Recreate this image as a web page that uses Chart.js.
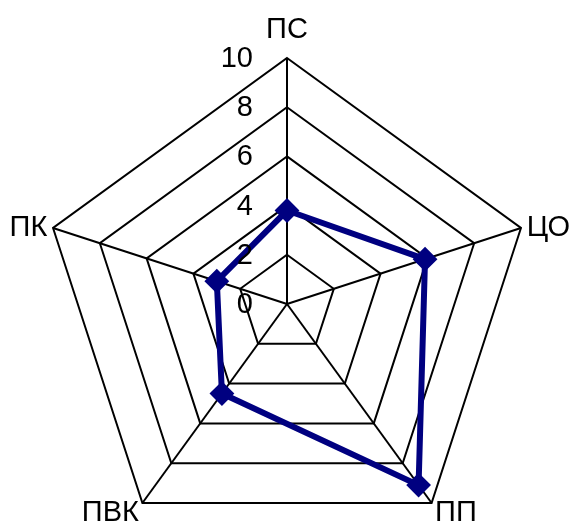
<!DOCTYPE html>
<html>
<head>
<meta charset="utf-8">
<script src="https://cdn.jsdelivr.net/npm/chart.js@4"></script>
<style>
  html, body { margin: 0; padding: 0; background: #fff; overflow: hidden; }
  /* the pentagon leaves the lower part of the circle empty, so the canvas runs a bit past the window */
  #wrap { width: 571px; height: 550px; position: relative; }
</style>
</head>
<body>
<div id="wrap"><canvas id="radar"></canvas></div>
<script>
// axes, clockwise from the top
var categories = ['ПС', 'ЦО', 'ПП', 'ПВК', 'ПК'];
var values = [3.8, 5.9, 9.1, 4.5, 3.0];
var tickValues = [0, 2, 4, 6, 8, 10];

var FONT = '29px "Liberation Sans", Arial, sans-serif';

// draws the axis names and the scale numbers (left of the vertical axis)
var labelsPlugin = {
    id: 'radarLabels',
    afterDraw: function (chart) {
        var scale = chart.scales.r;
        var ctx = chart.ctx;
        ctx.save();
        ctx.font = FONT;
        ctx.fillStyle = '#000';

        // tick numbers
        ctx.textAlign = 'right';
        ctx.textBaseline = 'middle';
        tickValues.forEach(function (v) {
            var d = scale.getDistanceFromCenterForValue(v);
            ctx.fillText(String(v), scale.xCenter - 34, scale.yCenter - d + 1);
        });

        // point labels
        categories.forEach(function (txt, i) {
            var angle = Math.round(scale.getIndexAngle(i) * 180 / Math.PI) % 360;
            var pos, dy = 2;
            if (angle === 0) {
                pos = scale.getPointPosition(i, scale.drawingArea + 14);
                ctx.textAlign = 'center';
                ctx.textBaseline = 'bottom';
                dy = 0;
            } else {
                pos = scale.getPointPosition(i, scale.drawingArea + 6);
                ctx.textAlign = angle < 180 ? 'left' : 'right';
                ctx.textBaseline = 'middle';
                if (angle > 90 && angle < 270) dy = 5;
            }
            ctx.fillText(txt, pos.x, pos.y + dy);
        });
        ctx.restore();
    }
};

var config = {
    type: 'radar',
    data: {
        labels: categories,
        datasets: [{
            data: values,
            borderColor: '#000080',
            backgroundColor: 'rgba(0,0,0,0)',
            borderWidth: 6,
            fill: false,
            pointStyle: 'rectRot',
            pointRadius: 11,
            pointBorderWidth: 2,
            pointBackgroundColor: '#000080',
            pointBorderColor: '#000080'
        }]
    },
    plugins: [labelsPlugin],
    options: {
        responsive: true,
        maintainAspectRatio: false,
        animation: false,
        layout: {
            padding: {top: 58, left: 41, right: 38, bottom: 0}
        },
        plugins: {
            legend: {display: false},
            tooltip: {enabled: false}
        },
        scales: {
            r: {
                min: 0,
                max: 10,
                ticks: {
                    stepSize: 2,
                    display: false
                },
                grid: {
                    color: '#000',
                    lineWidth: 2
                },
                angleLines: {
                    color: '#000',
                    lineWidth: 2
                },
                pointLabels: {
                    display: false
                }
            }
        }
    }
};

new Chart(document.getElementById('radar').getContext('2d'), config);
</script>
</body>
</html>
